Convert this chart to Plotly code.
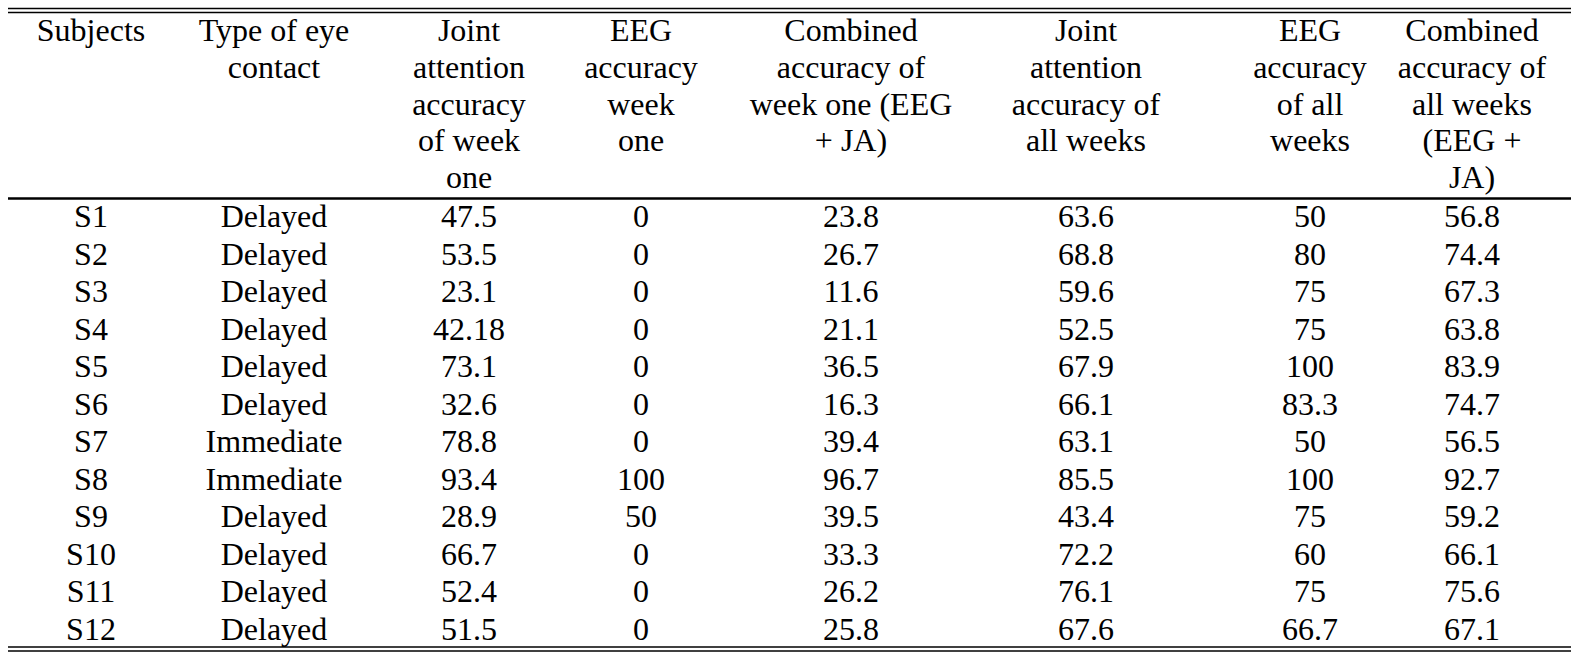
import plotly.graph_objects as go

# table content
subjects = ["S1", "S2", "S3", "S4", "S5", "S6", "S7", "S8", "S9", "S10", "S11", "S12"]
eye_contact = ["Delayed", "Delayed", "Delayed", "Delayed", "Delayed", "Delayed",
               "Immediate", "Immediate", "Delayed", "Delayed", "Delayed", "Delayed"]
ja_week_one = [47.5, 53.5, 23.1, 42.18, 73.1, 32.6, 78.8, 93.4, 28.9, 66.7, 52.4, 51.5]
eeg_week_one = [0, 0, 0, 0, 0, 0, 0, 100, 50, 0, 0, 0]
combined_week_one = [23.8, 26.7, 11.6, 21.1, 36.5, 16.3, 39.4, 96.7, 39.5, 33.3, 26.2, 25.8]
ja_all_weeks = [63.6, 68.8, 59.6, 52.5, 67.9, 66.1, 63.1, 85.5, 43.4, 72.2, 76.1, 67.6]
eeg_all_weeks = [50, 80, 75, 75, 100, 83.3, 50, 100, 75, 60, 75, 66.7]
combined_all_weeks = [56.8, 74.4, 67.3, 63.8, 83.9, 74.7, 56.5, 92.7, 59.2, 66.1, 75.6, 67.1]

headers = [
    ["Subjects"],
    ["Type of eye", "contact"],
    ["Joint", "attention", "accuracy", "of week", "one"],
    ["EEG", "accuracy", "week", "one"],
    ["Combined", "accuracy of", "week one (EEG", "+ JA)"],
    ["Joint", "attention", "accuracy of", "all weeks"],
    ["EEG", "accuracy", "of all", "weeks"],
    ["Combined", "accuracy of", "all weeks", "(EEG +", "JA)"],
]


def fmt(v):
    return v if isinstance(v, str) else f"{v:g}"


columns = [subjects, eye_contact, ja_week_one, eeg_week_one, combined_week_one,
           ja_all_weeks, eeg_all_weeks, combined_all_weeks]

# layout of the table (pixel-like units on hidden axes)
W, H = 1580, 663
col_x = [91, 274, 469, 641, 851, 1086, 1310, 1472]
head_top, head_step = 33, 36.8
row_top, row_step = 219, 37.5
left, right = 8, 1571
font = dict(family="Liberation Serif", size=32, color="black")

fig = go.Figure()

for j, col in enumerate(columns):
    lines = headers[j]
    fig.add_trace(go.Scatter(
        x=[col_x[j]] * len(lines),
        y=[head_top + k * head_step for k in range(len(lines))],
        text=lines, mode="text", textposition="middle center",
        textfont=font, hoverinfo="skip", showlegend=False,
    ))
    fig.add_trace(go.Scatter(
        x=[col_x[j]] * len(col),
        y=[row_top + i * row_step for i in range(len(col))],
        text=[fmt(v) for v in col], mode="text", textposition="middle center",
        textfont=font, hoverinfo="skip", showlegend=False,
    ))

# rules: double top, header bottom, double bottom
for y, w in [(8.5, 1.6), (12.5, 1.6), (198.5, 2.6), (647, 1.6), (651, 1.6)]:
    fig.add_shape(type="line", x0=left, x1=right, y0=y, y1=y,
                  line=dict(color="black", width=w), layer="above")

fig.update_layout(
    width=W, height=H,
    margin=dict(l=0, r=0, t=0, b=0),
    paper_bgcolor="white", plot_bgcolor="white",
    xaxis=dict(range=[0, W], visible=False, fixedrange=True),
    yaxis=dict(range=[H, 0], visible=False, fixedrange=True),
)

# drop the browser's default body margin so the table sits at the page corner
fig.write_html("out.html", config={"displayModeBar": False},
               post_script="document.body.style.margin='0';")
